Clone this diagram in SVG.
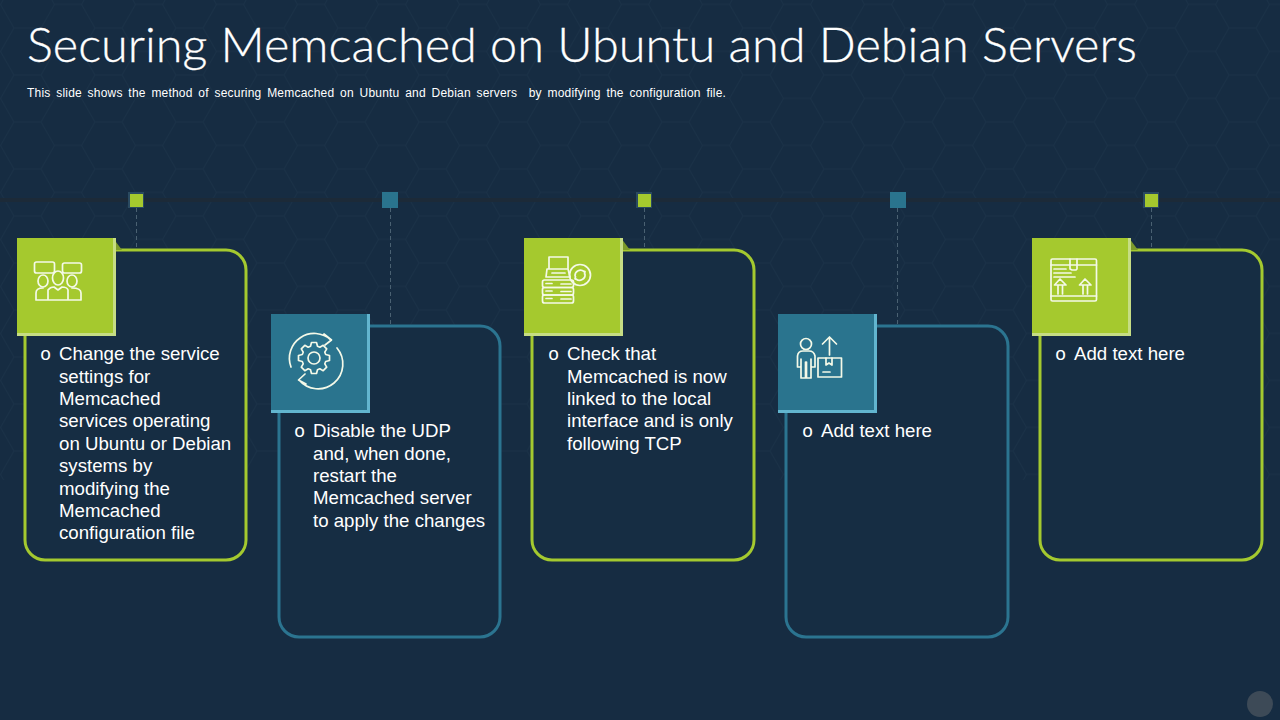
<svg xmlns="http://www.w3.org/2000/svg" width="1280" height="720" viewBox="0 0 1280 720">
<style>
.t{font-family:"Liberation Sans",Arial,sans-serif;font-size:18.67px;fill:#fff;transform:translateY(-.7px)}
.o{font-family:"Liberation Mono","Courier New",monospace;font-size:18.67px;fill:#fff;transform:translateY(-.7px)}
.b{font-family:"Liberation Sans",Arial,sans-serif;font-size:12px;fill:#fff;word-spacing:2.2px;letter-spacing:.2px;white-space:pre}
.cg{fill:#162d43;stroke:#a4c92f;stroke-width:3}
.cb{fill:#162d43;stroke:#2b7490;stroke-width:3}
.sg{fill:#a5c92e}.sb{fill:#2a748e}
.eg{fill:#c6dd84}.eb{fill:#62b5cf}
.i{fill:none;stroke:#f4f9e8;stroke-width:1.7;stroke-linejoin:round;stroke-linecap:round}
.dash{stroke:#4a6172;stroke-width:1;stroke-dasharray:4 3;fill:none}
</style>
<defs>
<pattern id="hex" width="81" height="47" patternUnits="userSpaceOnUse" x="41" y="4.500">
<path d="M0 23.500 13.500 0H40.500L54 23.500 40.500 47H13.500ZM54 23.500H81" fill="none" stroke="#1b3248" stroke-width="1"/>
</pattern>
</defs>
<rect width="1280" height="720" fill="#162c42"/>
<rect width="1280" height="480" fill="url(#hex)"/>
<circle cx="1260" cy="704" r="13" fill="#3d4a57"/>
<text x="27" y="62" textLength="1110" lengthAdjust="spacingAndGlyphs" font-family="Lato,'Open Sans',sans-serif" font-weight="300" font-size="47" fill="#fff" stroke="#fff" stroke-width=".3">Securing Memcached on Ubuntu and Debian Servers</text>
<text class="b" x="27" y="97">This slide shows the method of securing Memcached on Ubuntu and Debian servers  by modifying the configuration file.</text>
<g id="connectors">
<rect x="0" y="198" width="1280" height="4" fill="#1c2a38"/>
<path class="dash" d="M136.500 208V250M390.500 208V326M644.500 208V250M897.500 208V326M1151.500 208V250"/>
</g>
<g id="node-1">
<rect x="128" y="192" width="16" height="16" fill="#2a4a60"/><rect x="130" y="194" width="13" height="13" class="sg"/>
<rect class="cg" x="25" y="250" width="221" height="310" rx="20"/>
<path d="M113 238 122 250H113Z" fill="#7c9a2b"/>
<rect class="eg" x="17" y="238" width="99" height="98"/><rect class="sg" x="17" y="238" width="96" height="95"/>
<g class="i"><rect x="34.500" y="262" width="20" height="11" rx="2"/><rect x="62.500" y="263" width="19" height="10" rx="2"/><ellipse cx="43" cy="281" rx="5" ry="6"/><ellipse cx="58" cy="278" rx="5.500" ry="7"/><ellipse cx="72" cy="281" rx="5" ry="6"/><path d="M48 300H36V293Q36 288 43 288M67 300H81V293Q81 288 72 288M48 300V290Q50 287 54 287L58 290 62 287Q67 287 68 290V300Z"/></g>
<text class="o" x="40" y="361">o</text>
<text class="t"><tspan x="59" y="361">Change the service</tspan><tspan x="59" y="384">settings for</tspan><tspan x="59" y="406">Memcached</tspan><tspan x="59" y="428">services operating</tspan><tspan x="59" y="451">on Ubuntu or Debian</tspan><tspan x="59" y="473">systems by</tspan><tspan x="59" y="496">modifying the</tspan><tspan x="59" y="518">Memcached</tspan><tspan x="59" y="540">configuration file</tspan></text>
</g>
<g id="node-2">
<rect x="382" y="192" width="16" height="16" class="sb"/>
<rect class="cb" x="279" y="326" width="221" height="311" rx="20"/>
<rect class="eb" x="271" y="314" width="99" height="99"/><rect class="sb" x="271" y="314" width="96" height="96"/>
<g class="i"><path d="M291 367A24.800 24.800 0 0 1 331 340M337 348A24.800 24.800 0 0 1 299 380M324 334 331.500 340 325 345M305 374 298.500 380 306 384"/><polygon transform="translate(314 358)" points="11.700,-3.500 15.500,-2.500 15.500,2.500 11.700,3.500 10.800,5.800 12.700,9.200 9.200,12.700 5.800,10.800 3.500,11.700 2.500,15.500 -2.500,15.500 -3.500,11.700 -5.800,10.800 -9.200,12.700 -12.700,9.200 -10.800,5.800 -11.700,3.500 -15.500,2.500 -15.500,-2.500 -11.700,-3.500 -10.800,-5.800 -12.700,-9.200 -9.200,-12.700 -5.800,-10.800 -3.500,-11.700 -2.500,-15.500 2.500,-15.500 3.500,-11.700 5.800,-10.800 9.200,-12.700 12.700,-9.200 10.800,-5.800"/><circle cx="314" cy="358" r="6"/></g>
<text class="o" x="294" y="438">o</text>
<text class="t"><tspan x="313" y="438">Disable the UDP</tspan><tspan x="313" y="461">and, when done,</tspan><tspan x="313" y="483">restart the</tspan><tspan x="313" y="505">Memcached server</tspan><tspan x="313" y="528">to apply the changes</tspan></text>
</g>
<g id="node-3">
<rect x="636" y="192" width="16" height="16" fill="#2a4a60"/><rect x="638" y="194" width="13" height="13" class="sg"/>
<rect class="cg" x="532" y="250" width="222" height="310" rx="20"/>
<path d="M621 238 630 250H621Z" fill="#7c9a2b"/>
<rect class="eg" x="524" y="238" width="99" height="98"/><rect class="sg" x="524" y="238" width="96" height="95"/>
<g class="i"><path d="M549 269V257H568V269M547 269H568L570 277H546Z"/><path d="M552 273H565"/><circle cx="580" cy="275" r="10.500"/><path d="M575 276A5.500 5.500 0 0 1 584 271.500M582 270.500 585 271.500 584.500 274M585 274A5.500 5.500 0 0 1 576 279M578 280 575 279 575.500 276.500"/><rect x="542.500" y="280" width="31" height="7.500" rx="2"/><rect x="542.500" y="287.500" width="31" height="7.500" rx="2"/><rect x="542.500" y="295" width="31" height="8" rx="2"/><path d="M546 283.500H552M561 284H571M546 291H552M561 291.500H571M546 298.500H552M561 299H571"/></g>
<text class="o" x="548" y="361">o</text>
<text class="t"><tspan x="567" y="361">Check that</tspan><tspan x="567" y="384">Memcached is now</tspan><tspan x="567" y="406">linked to the local</tspan><tspan x="567" y="428">interface and is only</tspan><tspan x="567" y="451">following TCP</tspan></text>
</g>
<g id="node-4">
<rect x="890" y="192" width="16" height="16" class="sb"/>
<rect class="cb" x="786" y="326" width="222" height="311" rx="20"/>
<rect class="eb" x="778" y="314" width="99" height="99"/><rect class="sb" x="778" y="314" width="96" height="96"/>
<g class="i"><circle cx="806" cy="344" r="5.500"/><path d="M801 378V359M811 378V359M797.500 367V356Q798 351 803 351H809Q814 351 815 356V367M801 378H805.500V362M806.500 362V378H811M797.500 367H800M812 367H815"/><path d="M829.500 355V337M822.500 344 829.500 337 836.500 344"/><rect x="818" y="358" width="23.500" height="19"/><path d="M826 358V365L829 363 832 365V358M823 372H830"/></g>
<text class="o" x="802" y="438">o</text>
<text class="t"><tspan x="821" y="438">Add text here</tspan></text>
</g>
<g id="node-5">
<rect x="1143" y="192" width="16" height="16" fill="#2a4a60"/><rect x="1145" y="194" width="13" height="13" class="sg"/>
<rect class="cg" x="1040" y="250" width="222" height="310" rx="20"/>
<path d="M1129 238 1138 250H1129Z" fill="#7c9a2b"/>
<rect class="eg" x="1032" y="238" width="99" height="98"/><rect class="sg" x="1032" y="238" width="96" height="95"/>
<g class="i"><rect x="1051" y="259" width="45.500" height="42" rx="1.500"/><path d="M1051 265H1096.500M1051 296H1096.500M1070 259V269L1072 270H1076L1077 269V259M1054 269H1066M1054 273H1071M1054 277H1075M1058 294V285M1062.500 294V285M1054.500 285H1066L1060 279ZM1083 294V285M1087.500 294V285M1079.500 285H1091L1085 279Z"/></g>
<text class="o" x="1055" y="361">o</text>
<text class="t"><tspan x="1074" y="361">Add text here</tspan></text>
</g>
</svg>
